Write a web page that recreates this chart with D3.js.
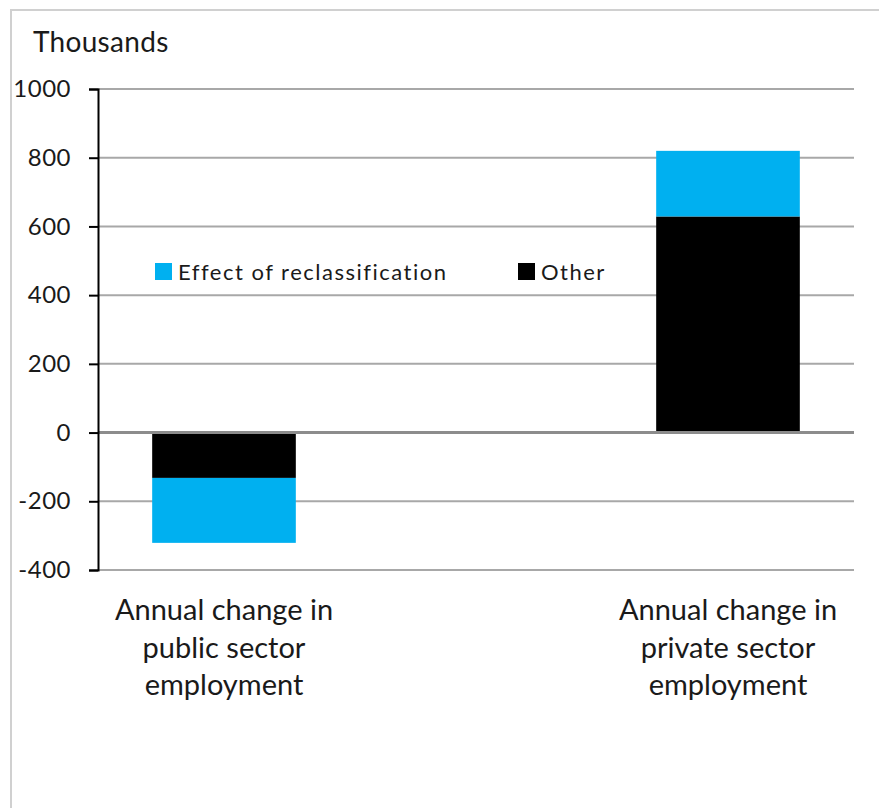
<!DOCTYPE html>
<html>
<head>
<meta charset="utf-8">
<script src="https://cdn.jsdelivr.net/npm/d3@7"></script>
<style>
  html, body { margin: 0; padding: 0; background: #fff; }
  svg { display: block; }
  text { font-family: Lato, "Open Sans", sans-serif; fill: #1a1a1a; }
</style>
</head>
<body>
<svg id="chart" width="879" height="808"></svg>
<script>
// ---- data ----
const categories = ["public", "gap", "private"];
const categoryLines = [
  ["Annual change in", "public sector", "employment"],
  [],
  ["Annual change in", "private sector", "employment"]
];
const seriesNames = ["Other", "Effect of reclassification"];
const otherValues = [-132, 0, 629];
const reclassValues = [-189, 0, 191];
const yTicks = [-400, -200, 0, 200, 400, 600, 800, 1000];
const yUnitLabel = "Thousands";
const legendOrder = ["Effect of reclassification", "Other"];

// ---- setup ----
const W = 879, H = 808;
const svg = d3.select("#chart");
const colors = { "Other": "#000000", "Effect of reclassification": "#00B0F0" };

const plotLeft = 98, plotRight = 854, plotTop = 89, plotBottom = 570;

// outer chart border
svg.append("rect")
  .attr("x", 11).attr("y", 10)
  .attr("width", W).attr("height", H)
  .attr("fill", "none").attr("stroke", "#d0d0d0").attr("stroke-width", 2);

const x = d3.scaleBand().domain(categories).range([plotLeft, plotRight]).padding(0);
const barW = x.bandwidth() * 0.57;
const y = d3.scaleLinear().domain([-400, 1000]).range([plotBottom, plotTop]);

// gridlines
svg.append("g").selectAll("line")
  .data(yTicks.filter(t => t !== 0))
  .join("line")
  .attr("x1", plotLeft).attr("x2", plotRight)
  .attr("y1", d => y(d)).attr("y2", d => y(d))
  .attr("stroke", "#a8a8a8").attr("stroke-width", 2);

// stacked bars
const rows = categories.map((c, i) => ({ cat: c, "Other": otherValues[i], "Effect of reclassification": reclassValues[i] }));
const stack = d3.stack().keys(seriesNames).offset(d3.stackOffsetDiverging);
const stacked = stack(rows);

svg.append("g").selectAll("g")
  .data(stacked)
  .join("g")
  .attr("fill", d => colors[d.key])
  .selectAll("rect")
  .data(d => d.filter(p => p[1] - p[0] !== 0))
  .join("rect")
  .attr("x", d => x(d.data.cat) + (x.bandwidth() - barW) / 2)
  .attr("width", barW)
  .attr("y", d => y(Math.max(d[0], d[1])))
  .attr("height", d => Math.abs(y(d[0]) - y(d[1])));

// zero line (horizontal axis)
svg.append("line")
  .attr("x1", plotLeft).attr("x2", plotRight)
  .attr("y1", y(0)).attr("y2", y(0))
  .attr("stroke", "#8c8c8c").attr("stroke-width", 3);

// y axis
const yAxis = d3.axisLeft(y).tickValues(yTicks).tickSize(9).tickPadding(18).tickFormat(d => String(d));
const gy = svg.append("g").attr("transform", `translate(${plotLeft},0)`).call(yAxis);
gy.select(".domain").attr("stroke", "#000").attr("stroke-width", 2);
gy.selectAll(".tick line").attr("stroke", "#000").attr("stroke-width", 2);
gy.selectAll(".tick text")
  .attr("font-family", "Lato, sans-serif")
  .attr("font-size", 24)
  .attr("fill", "#1a1a1a")
  .attr("letter-spacing", 0.5);

// unit label
svg.append("text")
  .attr("x", 33).attr("y", 52)
  .attr("font-size", 28)
  .attr("letter-spacing", 0.3)
  .text(yUnitLabel);

// category labels
const catG = svg.append("g");
categories.forEach((c, i) => {
  const lines = categoryLines[i];
  if (!lines.length) return;
  const t = catG.append("text")
    .attr("text-anchor", "middle")
    .attr("font-size", 29);
  lines.forEach((ln, j) => {
    t.append("tspan")
      .attr("x", x(c) + x.bandwidth() / 2)
      .attr("y", 620 + j * 37.5)
      .text(ln);
  });
});

// legend
const legendPos = [155, 518];
const lg = svg.append("g");
legendOrder.forEach((name, i) => {
  lg.append("rect")
    .attr("x", legendPos[i]).attr("y", 263)
    .attr("width", 17).attr("height", 17)
    .attr("fill", colors[name]);
  lg.append("text")
    .attr("x", legendPos[i] + 23).attr("y", 280)
    .attr("font-size", 22)
    .attr("letter-spacing", 1.5)
    .text(name);
});
</script>
</body>
</html>
